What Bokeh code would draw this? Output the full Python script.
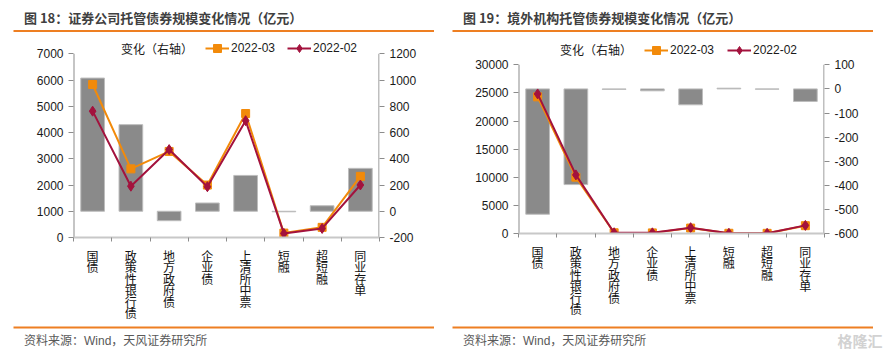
from bokeh.plotting import figure
from bokeh.models import (Range1d, LinearAxis, FixedTicker, Label, BoxAnnotation,
                          Legend, LegendItem)
from bokeh.layouts import row, column
from bokeh.embed import file_html
from bokeh.resources import INLINE

# ---------------- data ----------------
categories = ["国债", "政策性银行债", "地方政府债", "企业债", "上清所中票", "短融", "超短融", "同业存单"]

# 证券公司
sec_change = [1015, 660, -72, 63, 273, -4, 42, 327]
sec_2022_03 = [5830, 2615, 3280, 1998, 4725, 168, 387, 2330]
sec_2022_02 = [4815, 1955, 3350, 1935, 4452, 155, 345, 2000]

# 境外机构
frn_change = [-520, -397, -2, -8, -66, 3, -1, -52]
frn_2022_03 = [24300, 10020, 130, 110, 964, 40, 30, 1390]
frn_2022_02 = [24820, 10420, 132, 118, 1030, 37, 31, 1442]

left_ticks_a = [0, 1000, 2000, 3000, 4000, 5000, 6000, 7000]
right_ticks_a = [-200, 0, 200, 400, 600, 800, 1000, 1200]
left_ticks_b = [0, 5000, 10000, 15000, 20000, 25000, 30000]
right_ticks_b = [-600, -500, -400, -300, -200, -100, 0, 100]

titles = ["图 18：证券公司托管债券规模变化情况（亿元）", "图 19：境外机构托管债券规模变化情况（亿元）"]
source_text = "资料来源：Wind，天风证券研究所"
legend_labels = ["变化（右轴）", "2022-03", "2022-02"]
watermark_text = "格隆汇"

# ---------------- style ----------------
ORANGE = "#F28A0A"
RED = "#A3123D"
GRAY = "#8A8A8A"
RULE = "#EE7F22"
LATIN = "'Liberation Sans', 'Noto Sans CJK SC'"
CJK = "'Noto Sans CJK SC'"

W, H = 445, 354
T = 36      # height of title strip
B = 324     # canvas y where the source strip starts
FT = 38     # canvas y of chart frame top (legend lives inside frame)


def decor(y0, y1):
    d = figure(width=W, height=y1 - y0, output_backend="svg", toolbar_location=None,
               x_range=Range1d(0, W), y_range=Range1d(y1, y0),
               x_axis_type=None, y_axis_type=None, min_border=0,
               min_border_left=0, min_border_right=0, min_border_top=0, min_border_bottom=0,
               frame_align=False,
               outline_line_color=None, background_fill_color="white",
               border_fill_color="white")
    d.xgrid.visible = False
    d.ygrid.visible = False
    return d


def lab(fig, x, y, text, size, color, style="normal", font=LATIN):
    fig.add_layout(Label(x=x, y=y, text=text, text_font=font, text_font_size=size,
                         text_color=color, text_font_style=style,
                         text_baseline="middle", text_align="left"))


def rule(fig, x0, x1, y0, y1):
    fig.add_layout(BoxAnnotation(left=x0, right=x1, top=y0, bottom=y1,
                                 fill_color=RULE, fill_alpha=1, line_color=None))


def style_y(ax, ticks):
    ax.ticker = FixedTicker(ticks=ticks)
    ax.major_label_overrides = {t: str(t) for t in ticks}
    ax.major_tick_out = 5
    ax.major_tick_in = 0
    ax.minor_tick_out = 0
    ax.minor_tick_in = 0
    ax.axis_line_color = None
    ax.major_tick_line_color = "#8C8C8C"
    ax.major_label_standoff = 5
    ax.major_label_text_font = LATIN
    ax.major_label_text_font_size = "12px"
    ax.major_label_text_color = "#1A1A1A"


def make_panel(title, change, mar, feb, lticks, rticks, tick_top, fb,
               leg_xs, leg_cy, title_x, watermark=False):
    n = len(categories)
    centers = [i + 0.5 for i in range(n)]
    fl = 73
    fr = 379

    # ---- title strip ----
    top = decor(0, T)
    lab(top, title_x, 17, title, "13px", "#404040", "bold", CJK)
    rule(top, title_x - 10.5, title_x + 410, 29.5, 31.5)

    # ---- chart ----
    lspan = lticks[-1] - lticks[0]
    rspan = rticks[-1] - rticks[0]
    extra = (tick_top - FT) / (fb - tick_top)
    p = figure(width=W, height=B - T, output_backend="svg", toolbar_location=None,
               x_range=Range1d(0, n),
               y_range=Range1d(lticks[0], lticks[-1] + extra * lspan),
               min_border_left=fl, min_border_right=W - fr,
               min_border_top=FT - T, min_border_bottom=B - fb,
               frame_align=False,
               outline_line_color=None, background_fill_color="white",
               border_fill_color="white")
    p.xgrid.visible = False
    p.ygrid.visible = False
    p.extra_y_ranges = {"right": Range1d(rticks[0], rticks[-1] + extra * rspan)}

    style_y(p.yaxis[0], lticks)
    ra = LinearAxis(y_range_name="right")
    style_y(ra, rticks)
    p.add_layout(ra, "right")

    xa = p.xaxis[0]
    xa.ticker = FixedTicker(ticks=centers, minor_ticks=list(range(n + 1)))
    xa.major_tick_out = 0
    xa.major_tick_in = 0
    xa.minor_tick_out = 4
    xa.minor_tick_in = 0
    xa.minor_tick_line_color = "#8C8C8C"
    xa.axis_line_color = "#C8C8C8"
    xa.axis_line_width = 2
    xa.major_label_standoff = 5
    xa.major_label_overrides = {c: "\n".join(list(cat)) for c, cat in zip(centers, categories)}
    xa.major_label_text_font = CJK
    xa.major_label_text_font_size = "12px"
    xa.major_label_text_line_height = 0.68
    xa.major_label_text_color = "#111111"

    # vertical axis lines, only over the tick span (half hidden by the frame edge)
    p.segment(x0=[0], y0=[lticks[0]], x1=[0], y1=[lticks[-1]],
              line_color="#8C8C8C", line_width=2)
    p.segment(x0=[n], y0=[rticks[0]], x1=[n], y1=[rticks[-1]], y_range_name="right",
              line_color="#BFBFBF", line_width=3)

    p.vbar(x=centers, width=0.62, top=change, bottom=0, y_range_name="right",
           fill_color=GRAY, line_color="#BDBDBD", line_width=1)
    l1 = p.line(centers, mar, line_color=ORANGE, line_width=2)
    s1 = p.scatter(centers, mar, marker="square", size=8, fill_color=ORANGE, line_color=ORANGE)
    l2 = p.line(centers, feb, line_color=RED, line_width=2)
    s2 = p.scatter(centers, feb, marker="diamond", size=10, fill_color=RED, line_color=RED)
    dummy = p.line(x=[], y=[], line_color=GRAY, line_width=6, line_cap="butt")

    groups = [[dummy], [l1, s1], [l2, s2]]
    for lbl, rends, gx in zip(legend_labels, groups, leg_xs):
        leg = Legend(items=[LegendItem(label=lbl, renderers=rends)],
                     location=(gx - fl, fb - (leg_cy + 10)),
                     orientation="horizontal", glyph_width=24, glyph_height=20,
                     label_height=20, label_standoff=2, padding=0, margin=0,
                     spacing=0, border_line_color=None, background_fill_alpha=0,
                     label_text_font=LATIN, label_text_font_size="12px",
                     label_text_color="#1A1A1A")
        p.add_layout(leg)

    # ---- source strip ----
    bot = decor(B, H)
    rule(bot, title_x - 10.5, title_x + 410, 326, 328)
    lab(bot, title_x, 340.5, source_text, "12px", "#595959", "normal", LATIN)
    if watermark:
        lab(bot, 392, 340, watermark_text, "15px", "#D2D2D2", "bold", CJK)

    return column(top, p, bot, spacing=0)


c1 = make_panel(titles[0], sec_change, sec_2022_03, sec_2022_02, left_ticks_a, right_ticks_a,
                53.3, 237, [95, 205, 287], 48, 23.5)
c2 = make_panel(titles[1], frn_change, frn_2022_03, frn_2022_02, left_ticks_b, right_ticks_b,
                64.3, 233, [89, 199, 282], 49.5, 17.5, watermark=True)

layout = row(c1, c2, spacing=0)
open("out.html", "w").write(file_html(layout, INLINE))
